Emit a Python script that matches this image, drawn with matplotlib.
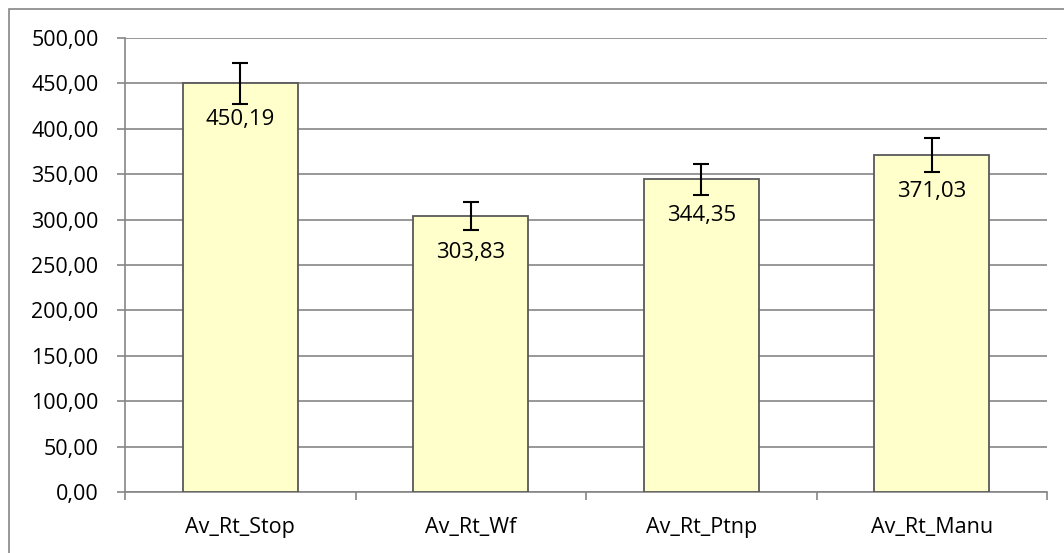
import matplotlib.pyplot as plt
from matplotlib.patches import Rectangle
from matplotlib.ticker import FuncFormatter, FixedLocator

categories = ["Av_Rt_Stop", "Av_Rt_Wf", "Av_Rt_Ptnp", "Av_Rt_Manu"]
values = [450.19, 303.83, 344.35, 371.03]
errors = [22.5, 15.5, 17.0, 18.7]

plt.rcParams['font.family'] = ['Open Sans', 'DejaVu Sans']

fig = plt.figure(figsize=(10.64, 5.53), dpi=100)
ax = fig.add_axes([125 / 1064, 1 - 492 / 553, (1047 - 125) / 1064, (492 - 38) / 553])

# outer chart frame (right and bottom edges fall outside the image)
fig.patches.append(Rectangle((9 / 1064, -0.05), 1.1, 1 - 9 / 553 + 0.05,
                             transform=fig.transFigure, fill=False,
                             edgecolor="#868686", linewidth=1.2))

x = range(len(categories))
ax.bar(x, values, 0.5, color="#FFFFCC", edgecolor="#595959", linewidth=1.3, zorder=3)
ax.errorbar(x, values, yerr=errors, fmt="none", ecolor="black",
            elinewidth=1.5, capsize=6, capthick=1.5, zorder=4)

for i, v in enumerate(values):
    ax.annotate(f"{v:.2f}".replace(".", ","), (i, v), xytext=(0, -30),
                textcoords="offset points", ha="center", va="baseline",
                fontsize=16, zorder=5)

ax.set_xlim(-0.5, len(categories) - 0.5)
ax.set_ylim(0, 500)
ax.set_yticks(range(0, 501, 50))
ax.yaxis.set_major_formatter(FuncFormatter(lambda v, p: f"{v:.2f}".replace(".", ",")))
ax.set_xticks(list(x))
ax.set_xticklabels(categories)
ax.xaxis.set_minor_locator(FixedLocator([i - 0.5 for i in range(len(categories) + 1)]))
ax.tick_params(axis="x", which="major", length=0, pad=18, labelsize=15.5)
ax.tick_params(axis="x", which="minor", length=6, color="#868686", width=1.2)
ax.tick_params(axis="y", length=6, color="#868686", width=1.2, labelsize=15.5, pad=13)
ax.grid(axis="y", color="#868686", linewidth=1.2, zorder=0)
ax.set_axisbelow(True)

for s in ["top", "right"]:
    ax.spines[s].set_visible(False)
for s in ["left", "bottom"]:
    ax.spines[s].set_color("#868686")
    ax.spines[s].set_linewidth(1.2)

fig.savefig("out.png", dpi=100)
